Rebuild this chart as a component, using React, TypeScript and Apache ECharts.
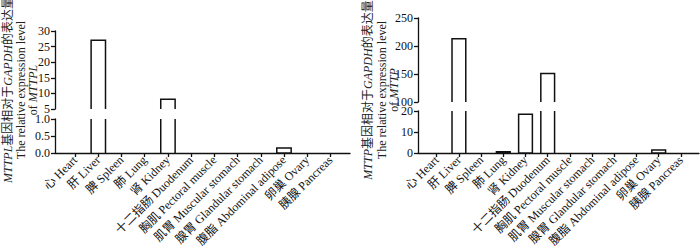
import React, { useEffect, useRef } from "react";
import * as echarts from "echarts";

const categories = [
  "心 Heart",
  "肝 Liver",
  "脾 Spleen",
  "肺 Lung",
  "肾 Kidney",
  "十二指肠 Duodenum",
  "胸肌 Pectoral muscle",
  "肌胃 Muscular stomach",
  "腺胃 Glandular stomach",
  "腹脂 Abdominal adipose",
  "卵巢 Ovary",
  "胰腺 Pancreas",
];

const mttplValues = [0, 27, 0, 0, 8.1, 0, 0, 0, 0, 0.15, 0, 0];
const mttpValues = [0, 213, 0, 0.6, 18.5, 151, 0, 0, 0, 0, 1.4, 0];

// [min, max, interval]
const leftTopRange = [5, 30, 5];
const leftBottomRange = [0, 1, 0.5];
const rightTopRange = [100, 250, 50];
const rightBottomRange = [0, 20, 10];

const leftTitle = ["{i|MTTPL}基因相对于{i|GAPDH}的表达量", "The relative expression level", "of {i|MTTPL}"];
const rightTitle = ["{i|MTTP}基因相对于{i|GAPDH}的表达量", "The relative expression level", "of {i|MTTP}"];

const FONT = "'Liberation Serif', 'Times New Roman', 'Noto Sans CJK SC', serif";

function makeRender(segMin: number, segMax: number, isTop: boolean) {
  return (params: any, api: any) => {
    const i = api.value(0);
    const v = api.value(1);
    if (!(v > segMin)) return null;
    const top = Math.min(v, segMax);
    const pTop = api.coord([i, top]);
    const pBase = api.coord([i, segMin]);
    const w = api.size([1, 0])[0] * 0.62;
    const x0 = pTop[0] - w / 2;
    const x1 = pTop[0] + w / 2;
    const yTop = pTop[1];
    const yBase = pBase[1];
    const style = { stroke: "#111", lineWidth: 1.5, fill: null };
    const children: any[] = [];
    if (v <= segMax) {
      if (isTop) {
        children.push({
          type: "polyline",
          shape: { points: [[x0, yBase], [x0, yTop], [x1, yTop], [x1, yBase]] },
          style,
        });
      } else {
        children.push({
          type: "rect",
          shape: { x: x0, y: yTop, width: x1 - x0, height: yBase - yTop },
          style: { stroke: "#111", lineWidth: 1.5, fill: "#fff" },
        });
      }
    } else {
      children.push({ type: "line", shape: { x1: x0, y1: yBase, x2: x0, y2: yTop }, style });
      children.push({ type: "line", shape: { x1: x1, y1: yBase, x2: x1, y2: yTop }, style });
    }
    return { type: "group", children };
  };
}

const axisLineStyle = { lineStyle: { color: "#111", width: 1.3 } };

function yAxisOf(gridIndex: number, range: number[], offset: number, decimals: number) {
  return {
    type: "value",
    gridIndex,
    min: range[0],
    max: range[1],
    interval: range[2],
    offset,
    axisLine: { show: true, ...axisLineStyle },
    axisTick: { show: true, length: 4, lineStyle: { color: "#111", width: 1.3 } },
    axisLabel: {
      margin: 5,
      fontFamily: FONT,
      fontSize: 12,
      color: "#111",
      formatter: (val: number) => val.toFixed(decimals),
    },
    splitLine: { show: false },
  };
}

function catAxis(gridIndex: number, showLabels: boolean) {
  return {
    type: "category",
    gridIndex,
    data: categories,
    boundaryGap: true,
    show: showLabels,
    axisLine: { show: false },
    axisTick: { show: showLabels, alignWithLabel: true, length: 4, lineStyle: { color: "#111", width: 1.3 } },
    axisLabel: {
      show: showLabels,
      interval: 0,
      rotate: 45,
      margin: 5,
      fontFamily: FONT,
      fontSize: 12,
      color: "#111",
    },
    splitLine: { show: false },
  };
}

function lineAxis(gridIndex: number) {
  return {
    type: "value",
    gridIndex,
    min: 0,
    max: 1,
    axisLine: { show: true, ...axisLineStyle },
    axisTick: { show: false },
    axisLabel: { show: false },
    splitLine: { show: false },
  };
}

function titleTexts(xs: number[], y: number, lines: string[]) {
  return lines.map((t, k) => ({
    type: "text",
    x: xs[k],
    y,
    rotation: Math.PI / 2,
    style: {
      text: t,
      fontFamily: FONT,
      fontSize: 12,
      fill: "#222",
      align: "center",
      verticalAlign: "middle",
      rich: {
        i: { fontStyle: "italic", fontFamily: FONT, fontSize: 12, fill: "#222" },
      },
    },
  }));
}

export default function App() {
  const ref = useRef<HTMLDivElement>(null);
  useEffect(() => {
    if (!ref.current) return;
    const chart = echarts.init(ref.current, undefined, { renderer: "svg" });
    const lData = mttplValues.map((v, i) => [i, v]);
    const rData = mttpValues.map((v, i) => [i, v]);
    chart.setOption({
      animation: false,
      backgroundColor: "#fff",
      grid: [
        { left: 63.5, top: 31, width: 278.5, height: 78 },
        { left: 63.5, top: 119, width: 278.5, height: 34 },
        { left: 55, top: 119, width: 295, height: 34 },
        { left: 425.6, top: 18, width: 266.4, height: 84 },
        { left: 425.6, top: 111, width: 266.4, height: 42 },
        { left: 418, top: 111, width: 281, height: 42 },
      ],
      xAxis: [
        catAxis(0, false),
        catAxis(1, true),
        lineAxis(2),
        catAxis(3, false),
        catAxis(4, true),
        lineAxis(5),
      ],
      yAxis: [
        yAxisOf(0, leftTopRange, 8.5, 0),
        yAxisOf(1, leftBottomRange, 8.5, 1),
        { type: "value", gridIndex: 2, show: false, min: 0, max: 1 },
        yAxisOf(3, rightTopRange, 7.6, 0),
        yAxisOf(4, rightBottomRange, 7.6, 0),
        { type: "value", gridIndex: 5, show: false, min: 0, max: 1 },
      ],
      series: [
        { type: "custom", xAxisIndex: 0, yAxisIndex: 0, data: lData, renderItem: makeRender(leftTopRange[0], leftTopRange[1], true) },
        { type: "custom", xAxisIndex: 1, yAxisIndex: 1, data: lData, renderItem: makeRender(leftBottomRange[0], leftBottomRange[1], false) },
        { type: "custom", xAxisIndex: 3, yAxisIndex: 3, data: rData, renderItem: makeRender(rightTopRange[0], rightTopRange[1], true) },
        { type: "custom", xAxisIndex: 4, yAxisIndex: 4, data: rData, renderItem: makeRender(rightBottomRange[0], rightBottomRange[1], false) },
      ],
      graphic: [
        ...titleTexts([8, 21, 33], 90, leftTitle),
        ...titleTexts([368, 382, 394], 90, rightTitle),
      ],
    });
    return () => chart.dispose();
  }, []);
  return (
    <div
      ref={ref}
      style={{ position: "fixed", left: 0, top: 0, width: 700, height: 250, background: "#fff" }}
    />
  );
}
